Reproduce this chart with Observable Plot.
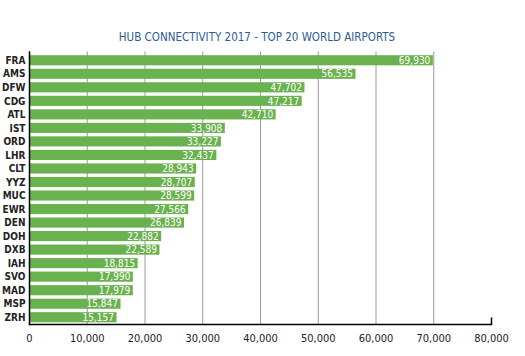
<!DOCTYPE html>
<html>
<head>
<meta charset="utf-8">
<script src="https://cdn.jsdelivr.net/npm/d3@7"></script>
<script src="https://cdn.jsdelivr.net/npm/@observablehq/plot@0.6"></script>
<style>
  html, body { margin: 0; padding: 0; background: #fff; }
  #wrap { width: 525px; height: 356px; overflow: hidden; }
  #title {
    height: 48px; box-sizing: border-box; padding-top: 30px; padding-right: 11px;
    font-family: "DejaVu Sans Condensed", "Liberation Sans Narrow", sans-serif;
    font-size: 11.5px; line-height: 14px; color: #2c5b9a; text-align: center;
  }
  #chart svg { display: block; }
</style>
</head>
<body>
<div id="wrap">
  <div id="title">HUB CONNECTIVITY 2017 - TOP 20 WORLD AIRPORTS</div>
  <div id="chart"></div>
</div>
<script>
const airports = ["FRA","AMS","DFW","CDG","ATL","IST","ORD","LHR","CLT","YYZ","MUC","EWR","DEN","DOH","DXB","IAH","SVO","MAD","MSP","ZRH"];
const connectivity = [69930,56535,47702,47217,42710,33908,33227,32437,28943,28707,28599,27566,26839,22882,22589,18815,17990,17979,15847,15157];
const xTicks = [0,10000,20000,30000,40000,50000,60000,70000,80000];
const gridTicks = [10000,20000,30000,40000,50000,60000,70000];

const data = airports.map((a, i) => ({airport: a, value: connectivity[i]}));
const fmt = d3.format(",");
const font = '"DejaVu Sans Condensed", "Liberation Sans Narrow", sans-serif';

const chart = Plot.plot({
  width: 525,
  height: 308,
  marginTop: 5.5,
  marginBottom: 32,
  marginLeft: 29,
  marginRight: 34,
  style: {fontFamily: font, background: "#fff"},
  x: {domain: [0, 80000]},
  y: {domain: airports, paddingInner: 0.25, paddingOuter: 0.125, round: false},
  marks: [
    Plot.gridX(gridTicks, {stroke: "#999", strokeOpacity: 1, insetTop: -2}),
    Plot.barX(data, {x: "value", y: "airport", fill: "#6ab24f"}),
    Plot.text(data, {x: "value", y: "airport", text: d => fmt(d.value), textAnchor: "end", dx: -3, fill: "#fff", fontSize: 10}),
    Plot.axisY({tickSize: 0, tickPadding: 4, fontSize: 10, fontWeight: "bold", fill: "#222", label: null}),
    Plot.axisX({ticks: xTicks, tickSize: 0, tickPadding: 10, fontSize: 11, fill: "#222", tickFormat: fmt, label: null}),
    Plot.frame({anchor: "bottom", stroke: "#000", strokeWidth: 1.5}),
    Plot.frame({anchor: "left", stroke: "#000", strokeWidth: 1.5, insetTop: -2}),
    Plot.tickX([80000], {x: d => d, stroke: "#000", strokeWidth: 1.5, insetTop: 264})
  ]
});
document.getElementById("chart").appendChild(chart);
</script>
</body>
</html>
